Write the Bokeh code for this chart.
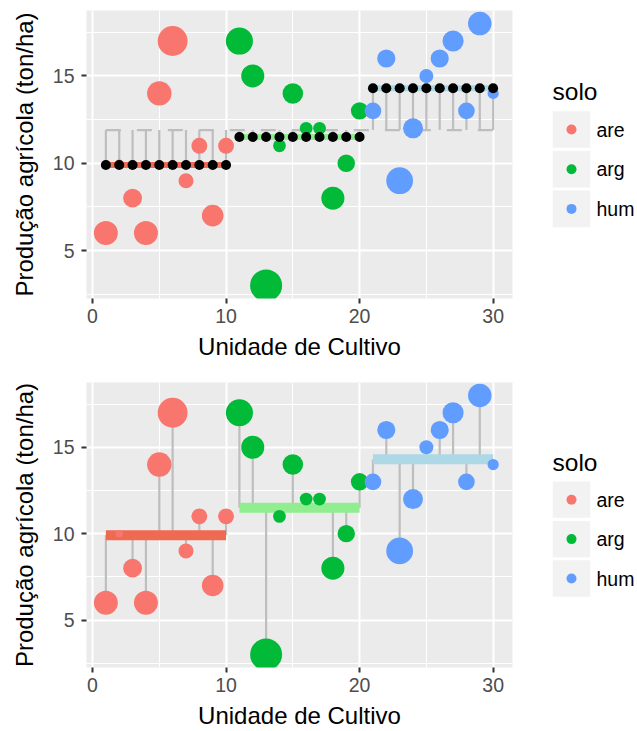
import numpy as np
from bokeh.plotting import figure
from bokeh.layouts import column, row
from bokeh.models import Range1d, FixedTicker, ColumnDataSource
from bokeh.embed import file_html
from bokeh.resources import INLINE
from bokeh.core.properties import value

# ---- data ----
unidade = [1, 2, 3, 4, 5, 6, 7, 8, 9, 10,
           11, 12, 13, 14, 15, 16, 17, 18, 19, 20,
           21, 22, 23, 24, 25, 26, 27, 28, 29, 30]
solo = ["are"] * 10 + ["arg"] * 10 + ["hum"] * 10
producao = [6, 10, 8, 6, 14, 17, 9, 11, 7, 11,
            17, 15, 3, 11, 14, 12, 12, 8, 10, 13,
            13, 16, 9, 12, 15, 16, 17, 13, 18, 14]
niveis = ["are", "arg", "hum"]
x_ticks = [0, 10, 20, 30]
y_ticks = [5, 10, 15]

# ---- styles ----
FONT = "Liberation Sans"
cores = {"are": "#F8766D", "arg": "#00BA38", "hum": "#619CFF"}
cores_media = {"are": "#EE6A50", "arg": "#90EE90", "hum": "#ADD8E6"}
GREY = "#BEBEBE"

u = np.array(unidade, dtype=float)
y = np.array(producao, dtype=float)
s = np.array(solo)
medias = {g: y[s == g].mean() for g in niveis}
media_geral = y.mean()
m_ind = np.array([medias[g] for g in solo])
resid = np.abs(y - m_ind)
t = (resid - resid.min()) / (resid.max() - resid.min())
diam = 7.4 + 24.6 * np.sqrt(t)
cols = [cores[g] for g in solo]

src = ColumnDataSource(dict(x=u, y=y, m=m_ind, d=diam, c=cols,
                            g=np.full(len(u), media_geral)))


def base_fig(height, top, bottom):
    p = figure(width=530, height=height, output_backend="svg", toolbar_location=None,
               x_range=Range1d(-0.45, 31.45), y_range=Range1d(2.25, 18.75),
               min_border_left=86, min_border_right=18,
               min_border_top=top, min_border_bottom=bottom)
    p.background_fill_color = "#EBEBEB"
    p.outline_line_color = None
    p.border_fill_color = "white"
    p.xaxis.ticker = FixedTicker(ticks=x_ticks, minor_ticks=[5, 15, 25])
    p.yaxis.ticker = FixedTicker(ticks=y_ticks, minor_ticks=[2.5, 7.5, 12.5, 17.5])
    for ax in (p.xaxis, p.yaxis):
        ax.axis_line_color = None
        ax.major_tick_line_color = "#333333"
        ax.major_tick_line_width = 2
        ax.major_tick_out = 5
        ax.major_tick_in = 0
        ax.minor_tick_line_color = None
        ax.major_label_text_font = FONT
        ax.major_label_text_font_size = "19.5px"
        ax.major_label_text_color = "#4D4D4D"
        ax.axis_label_text_font = FONT
        ax.axis_label_text_font_size = "24px"
        ax.axis_label_text_font_style = "normal"
        ax.axis_label_text_color = "black"
    p.xaxis.axis_label = "Unidade de Cultivo"
    p.yaxis.axis_label = "Produção agrícola (ton/ha)"
    p.xaxis.major_label_standoff = 5
    p.xaxis.axis_label_standoff = 7
    p.yaxis.major_label_standoff = 7
    p.yaxis.axis_label_standoff = 12
    p.grid.grid_line_color = "white"
    p.grid.grid_line_width = 2
    p.grid.minor_grid_line_color = "white"
    p.grid.minor_grid_line_width = 1
    return p


# ---- top panel ----
p1 = base_fig(370, 10, 72)
p1.segment(x0="x", y0="m", x1="x", y1="g", source=src, line_color=GREY, line_width=2.2)
p1.line(x=[min(unidade), max(unidade)], y=[media_geral, media_geral],
        line_color=GREY, line_width=2.2, line_dash="15 16")
p1.scatter(x="x", y="y", size="d", fill_color="c", line_color=None, source=src)
for g in niveis:
    xs = u[s == g]
    p1.line(x=[xs.min(), xs.max()], y=[medias[g], medias[g]],
            line_color=cores_media[g], line_width=6, line_cap="butt")
p1.scatter(x="x", y="m", size=10, fill_color="black", line_color=None, source=src)

# ---- bottom panel ----
p2 = base_fig(361, 12, 62)
p2.segment(x0="x", y0="y", x1="x", y1="m", source=src, line_color=GREY, line_width=2.2)
for g in niveis:
    xs = u[s == g]
    p2.line(x=[xs.min(), xs.max()], y=[medias[g], medias[g]],
            line_color=cores_media[g], line_width=10, line_cap="butt")
p2.scatter(x="x", y="y", size="d", fill_color="c", line_color=None, source=src)


# ---- legends (frame aligned with the panel's frame; y range in page pixels) ----
def legend_fig(height, frame_top, frame_bottom, title_y, first_y):
    lf = figure(width=107, height=height, output_backend="svg", toolbar_location=None,
                x_range=Range1d(0, 107), y_range=Range1d(frame_bottom, frame_top),
                min_border=0, min_border_left=0, min_border_right=0,
                min_border_top=0, min_border_bottom=0)
    lf.axis.visible = False
    lf.grid.visible = False
    lf.outline_line_color = None
    lf.background_fill_color = "white"
    lf.border_fill_color = "white"
    ys = [first_y + 39.7 * i for i in range(len(niveis))]
    lf.rect(x=[41] * 3, y=ys, width=37.5, height=36.6, fill_color="#F2F2F2", line_color=None)
    lf.scatter(x=[41] * 3, y=ys, size=10, fill_color=[cores[g] for g in niveis], line_color=None)
    lf.text(x=[66] * 3, y=ys, text=niveis, text_font=value(FONT), text_font_size="19.5px",
            text_baseline="middle", text_align="left", text_color="black")
    lf.text(x=[22], y=[title_y], text=["solo"], text_font=value(FONT), text_font_size="24.5px",
            text_baseline="alphabetic", text_align="left", text_color="black")
    return lf


l1 = legend_fig(370, 10, 298, 91, 129)
l2 = legend_fig(361, 382, 669, 463, 500)

layout = column(row(p1, l1, spacing=0), row(p2, l2, spacing=0), spacing=0)
open("out.html", "w").write(file_html(layout, INLINE))
